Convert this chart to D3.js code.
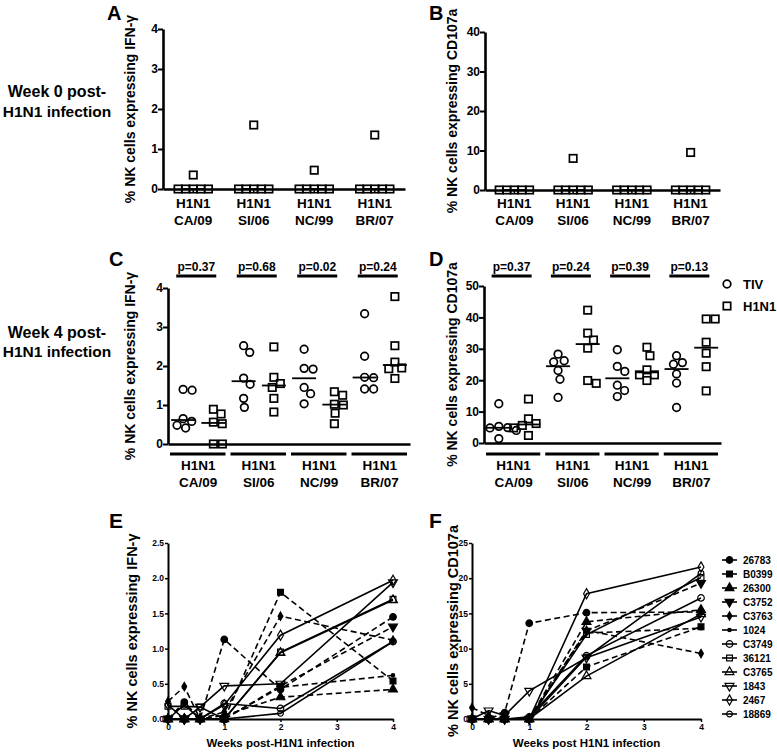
<!DOCTYPE html>
<html><head><meta charset="utf-8">
<script src="https://cdn.jsdelivr.net/npm/d3@7"></script>
<style>body{margin:0;background:#fff}</style>
</head><body><svg id="c" width="777" height="752"></svg>
<script>
// ---------------- DATA ----------------
const strains = ["CA/09", "SI/06", "NC/99", "BR/07"];
const virusLabel = "H1N1";
const groupNames = ["TIV", "H1N1"];

// Week 0 (H1N1 group only)
const aIFN = [[0,0,0,0,0,0.35],[0,0,0,0,0,1.6],[0,0,0,0,0,0.47],[0,0,0,0,0,1.35]];
const bCD107 = [[0,0,0,0,0],[0,0,0,0,0,8.0],[0,0,0,0,0],[0,0,0,0,0,9.5]];

// Week 4
const cTIV  = [[1.40,1.38,0.65,0.58,0.48,0.41],[2.52,2.35,1.69,1.53,1.17,0.94],[2.43,1.94,1.92,1.45,1.29,1.03],[3.34,2.25,1.71,1.70,1.41,1.41]];
const cH1N1 = [[0.89,0.77,0.56,0.52,0,0],[2.49,1.71,1.55,1.45,1.17,0.82],[1.34,1.25,1.02,1.00,0.79,0.52],[3.78,2.52,2.10,1.95,1.93,1.68]];
const cP = ["p=0.37","p=0.68","p=0.02","p=0.24"];
const dTIV  = [[12.5,5.3,4.9,4.8,4.0,1.4],[28.3,26.2,25.8,23.1,20.3,14.5],[29.7,24.4,22.8,18.4,16.7,14.8],[27.8,25.6,25.1,22.0,19.1,11.3]];
const dH1N1 = [[14.0,7.7,6.2,5.6,4.8,2.4],[42.3,35.0,32.8,30.2,19.9,19.0],[30.5,27.8,23.3,21.7,21.7,19.9],[39.5,39.5,32.1,28.6,24.3,16.6]];
const dP = ["p=0.37","p=0.24","p=0.39","p=0.13"];

// Time course
const weeks = [0, 0.29, 0.57, 1, 2, 4];
const patients = ["26783","B0399","26300","C3752","C3763","1024","C3749","36121","C3765","1843","2467","18869"];
const eIFN = [
  [0, 0.24, 0, 1.13, 0.42, 1.45],
  [0, 0, 0, 0, 1.80, 0.54],
  [0, 0, 0, 0.05, 0.31, 0.42],
  [0, 0, 0, 0, 0.47, 1.31],
  [0.25, 0.46, 0, 0.10, 1.46, 1.12],
  [0, 0, 0, 0, 0.45, 0.62],
  [0, 0.20, 0, 0.22, 0.15, 1.10],
  [0.18, 0.18, 0.17, 0, 0.95, 1.70],
  [0, 0, 0, 0, 0.94, 1.69],
  [0, 0, 0.17, 0.47, 0.50, 1.94],
  [0.20, 0, 0, 0.20, 1.19, 1.97],
  [0, 0, 0, 0, 0.08, 1.10]
];
const fCD107 = [
  [0, 0, 0.9, 13.6, 15.1, 15.2],
  [0, 0, 0, 0, 7.4, 13.1],
  [0, 0, 0, 0, 13.8, 15.5],
  [0, 0, 0, 0, 12.5, 19.3],
  [1.6, 0.5, 0, 0, 12.6, 9.3],
  [0, 0, 0, 0, 12.2, 12.9],
  [0, 0, 0, 0.3, 9.0, 17.2],
  [0, 0, 0, 0, 12.0, 20.1],
  [0, 0, 0, 0, 6.1, 14.9],
  [0, 1.2, 0.5, 4.0, 8.7, 14.5],
  [0, 0, 0, 0, 17.8, 21.6],
  [0, 0, 0, 0, 8.8, 20.7]
];

// ---------------- STYLE ----------------
const FONT = "'Liberation Sans', Arial, sans-serif";
const patientStyle = [
  {sym:"circle", fill:true, dash:true},
  {sym:"square", fill:true, dash:true},
  {sym:"triangle", fill:true, dash:true},
  {sym:"triangleDown", fill:true, dash:true},
  {sym:"diamondSmall", fill:true, dash:true},
  {sym:"dot", fill:true, dash:true},
  {sym:"circle", fill:false, dash:false},
  {sym:"square", fill:false, dash:false},
  {sym:"triangle", fill:false, dash:false},
  {sym:"triangleDown", fill:false, dash:false},
  {sym:"diamond", fill:false, dash:false},
  {sym:"circleSmall", fill:false, dash:false}
];

const svg = d3.select("#c");

function txt(x, y, s, size, opts = {}) {
  const t = svg.append("text").attr("x", x).attr("y", y).text(s)
    .attr("font-family", opts.family || FONT).attr("font-size", size)
    .attr("font-weight", "bold").attr("text-anchor", opts.anchor || "middle").attr("fill", "#000");
  if (opts.rotate) t.attr("transform", `rotate(-90,${x},${y})`);
  return t;
}

function swarm(ys, D) {
  const placed = [];
  return ys.map(py => {
    const blocked = [];
    placed.forEach(p => {
      const dy = Math.abs(p.y - py);
      if (dy < D) { const dx = Math.sqrt(D * D - dy * dy); blocked.push([p.x - dx, p.x + dx]); }
    });
    const cands = [0];
    blocked.forEach(b => cands.push(b[0], b[1]));
    cands.sort((a, b) => Math.abs(a) - Math.abs(b) || b - a);
    const x = cands.find(c => blocked.every(b => c <= b[0] + 1e-6 || c >= b[1] - 1e-6));
    placed.push({x, y: py});
    return x;
  });
}

function styleAxis(g, domainW, tickW, fontSize) {
  g.select(".domain").attr("stroke", "#000").attr("stroke-width", domainW);
  g.selectAll(".tick line").attr("stroke", "#000").attr("stroke-width", tickW);
  g.selectAll(".tick text").attr("font-family", FONT).attr("font-weight", "bold")
    .attr("font-size", fontSize).attr("fill", "#000");
}

function scatterPanel(cfg) {
  const y = d3.scaleLinear().domain([0, cfg.yMax]).range([cfg.y0, cfg.yTop]);
  const xs = d3.scaleBand().domain(strains).range([cfg.x0, cfg.x1]);
  const inner = d3.scaleBand().domain(d3.range(cfg.series.length)).range([0, xs.bandwidth()]);
  const g = svg.append("g");

  const ya = g.append("g").attr("transform", `translate(${cfg.x0},0)`)
    .call(d3.axisLeft(y).tickValues(d3.range(0, cfg.yMax + 1e-9, cfg.yStep)).tickSize(5).tickSizeOuter(0).tickFormat(d3.format("d")));
  styleAxis(ya, 2.6, 2, 12);
  ya.selectAll(".tick text").attr("x", -5);

  const xa = g.append("g").attr("transform", `translate(0,${y(0)})`)
    .call(d3.axisBottom(xs).tickSize(cfg.catTicks ? 3 : 0).tickSizeOuter(0).tickFormat(""));
  styleAxis(xa, 2.6, 1.5, 12);

  strains.forEach(s => {
    const cx = xs(s) + xs.bandwidth() / 2;
    txt(cx, cfg.labY, virusLabel, 13.5);
    txt(cx, cfg.labY + 17, s, 13.5);
    if (cfg.underBars) {
      g.append("line").attr("x1", xs(s) + 2).attr("x2", xs(s) + xs.bandwidth() - 3)
        .attr("y1", cfg.underBars).attr("y2", cfg.underBars).attr("stroke", "#000").attr("stroke-width", 3);
    }
  });

  cfg.series.forEach((ser, k) => {
    ser.values.forEach((vals, i) => {
      const cx = xs(strains[i]) + inner(k) + inner.bandwidth() / 2;
      const pys = vals.map(v => y(v));
      const offs = swarm(pys, cfg.D);
      vals.forEach((v, j) => {
        if (ser.shape === "circle") {
          g.append("circle").attr("cx", cx + offs[j]).attr("cy", y(v)).attr("r", 3.8)
            .attr("fill", "none").attr("stroke", "#000").attr("stroke-width", 1.7);
        } else {
          g.append("rect").attr("x", cx + offs[j] - 3.7).attr("y", y(v) - 3.7).attr("width", 7.4).attr("height", 7.4)
            .attr("fill", "none").attr("stroke", "#000").attr("stroke-width", 1.7);
        }
      });
      const med = d3.median(vals);
      g.append("line").attr("x1", cx - 12).attr("x2", cx + 12).attr("y1", y(med)).attr("y2", y(med))
        .attr("stroke", "#000").attr("stroke-width", 1.8);
    });
  });

  if (cfg.pvals) {
    strains.forEach((s, i) => {
      const cx = xs(s) + xs.bandwidth() / 2;
      txt(cx - 2, cfg.pY, cfg.pvals[i], 12);
      g.append("line").attr("x1", cx - 22).attr("x2", cx + 18).attr("y1", cfg.pY + 5).attr("y2", cfg.pY + 5)
        .attr("stroke", "#000").attr("stroke-width", 3);
    });
  }

  txt(cfg.titleX, (cfg.y0 + cfg.yTop) / 2, cfg.title, 14, {rotate: true});
  txt(cfg.letterX, cfg.letterY, cfg.letter, 20, {anchor: "start"});
}

function symbolPath(sym) {
  const m = {
    circle: [d3.symbolCircle, 34], circleSmall: [d3.symbolCircle, 26],
    square: [d3.symbolSquare, 34], triangle: [d3.symbolTriangle, 34],
    triangleDown: [d3.symbolTriangle, 34], diamond: [d3.symbolDiamond, 30],
    diamondSmall: [d3.symbolDiamond, 20], dot: [d3.symbolCircle, 9]
  }[sym];
  return d3.symbol().type(m[0]).size(m[1])();
}

function linePanel(cfg) {
  const x = d3.scaleLinear().domain([0, 4]).range([cfg.x0, cfg.x4]);
  const y = d3.scaleLinear().domain([0, cfg.yMax]).range([cfg.y0, cfg.yTop]);
  const g = svg.append("g");
  const ya = g.append("g").attr("transform", `translate(${cfg.x0},0)`)
    .call(d3.axisLeft(y).tickValues(d3.range(0, cfg.yMax + 1e-9, cfg.yStep)).tickSize(3).tickSizeOuter(0).tickFormat(d3.format(cfg.yFmt)));
  styleAxis(ya, 2, 1.5, 8.5);
  ya.selectAll(".tick text").attr("x", -4);
  const xa = g.append("g").attr("transform", `translate(0,${cfg.y0})`)
    .call(d3.axisBottom(x).tickValues([0, 1, 2, 3, 4]).tickSize(3).tickSizeOuter(0).tickFormat(d3.format("d")));
  styleAxis(xa, 2, 1.5, 8.5);
  xa.selectAll(".tick text").attr("y", 5);

  const line = d3.line().x((d, i) => x(weeks[i])).y(d => y(d));
  cfg.data.forEach((vals, p) => {
    const st = patientStyle[p];
    g.append("path").datum(vals).attr("d", line).attr("fill", "none").attr("stroke", "#000")
      .attr("stroke-width", 1.6).attr("stroke-dasharray", st.dash ? "6,3.5" : null);
  });
  cfg.data.forEach((vals, p) => {
    const st = patientStyle[p];
    vals.forEach((v, i) => {
      g.append("path").attr("d", symbolPath(st.sym))
        .attr("transform", `translate(${x(weeks[i])},${y(v)})` + (st.sym === "triangleDown" ? " rotate(180)" : ""))
        .attr("fill", st.fill ? "#000" : "none").attr("stroke", "#000").attr("stroke-width", 1.2);
    });
  });
  txt(cfg.titleX, (cfg.y0 + cfg.yTop) / 2, cfg.title, 14.5, {rotate: true});
  txt((cfg.x0 + cfg.x4) / 2, 747, cfg.xTitle, 11.5);
  txt(cfg.letterX, 528, cfg.letter, 21, {anchor: "start"});

  if (cfg.legend) {
    patients.forEach((name, p) => {
      const ly = 560 + p * 14;
      const st = patientStyle[p];
      svg.append("line").attr("x1", 722).attr("x2", 737).attr("y1", ly).attr("y2", ly)
        .attr("stroke", "#000").attr("stroke-width", 1.6);
      svg.append("path").attr("d", symbolPath(st.sym))
        .attr("transform", `translate(729.5,${ly})` + (st.sym === "triangleDown" ? " rotate(180)" : ""))
        .attr("fill", st.fill ? "#000" : "none").attr("stroke", "#000").attr("stroke-width", 1.2);
      txt(743, ly + 3.5, name, 10, {anchor: "start"});
    });
  }
}

// Row labels
txt(57, 97, "Week 0 post-", 16);
txt(57, 117, "H1N1 infection", 15.5);
txt(57, 338, "Week 4 post-", 16);
txt(57, 357, "H1N1 infection", 15.5);

scatterPanel({x0: 163, x1: 405, y0: 189, yTop: 29, yMax: 4, yStep: 1, series: [{values: aIFN, shape: "square"}],
  D: 7.6, catTicks: true, labY: 208, title: "% NK cells expressing IFN-γ", titleX: 135, letter: "A", letterX: 107, letterY: 20});
scatterPanel({x0: 485, x1: 720, y0: 190, yTop: 32, yMax: 40, yStep: 10, series: [{values: bCD107, shape: "square"}],
  D: 7.6, catTicks: true, labY: 208, title: "% NK cells expressing CD107a", titleX: 457, letter: "B", letterX: 429, letterY: 20});
scatterPanel({x0: 168, x1: 410, y0: 444, yTop: 288, yMax: 4, yStep: 1,
  series: [{values: cTIV, shape: "circle"}, {values: cH1N1, shape: "square"}],
  D: 9, catTicks: false, labY: 470, underBars: 454, pvals: cP, pY: 271,
  title: "% NK cells expressing IFN-γ", titleX: 135, letter: "C", letterX: 109, letterY: 266});
scatterPanel({x0: 484, x1: 721, y0: 443, yTop: 286, yMax: 50, yStep: 10,
  series: [{values: dTIV, shape: "circle"}, {values: dH1N1, shape: "square"}],
  D: 9, catTicks: false, labY: 470, underBars: 454, pvals: dP, pY: 271,
  title: "% NK cells expressing CD107a", titleX: 457, letter: "D", letterX: 429, letterY: 266});

// D legend
svg.append("circle").attr("cx", 727).attr("cy", 284).attr("r", 3.8).attr("fill", "none").attr("stroke", "#000").attr("stroke-width", 1.7);
txt(743, 289, groupNames[0], 13, {anchor: "start"});
svg.append("rect").attr("x", 723.3).attr("y", 302.3).attr("width", 7.4).attr("height", 7.4).attr("fill", "none").attr("stroke", "#000").attr("stroke-width", 1.7);
txt(743, 311, groupNames[1], 13, {anchor: "start"});

linePanel({x0: 168, x4: 393, y0: 719, yTop: 543, yMax: 2.5, yStep: 0.5, yFmt: ".1f", data: eIFN,
  title: "% NK cells expressing IFN-γ", titleX: 137, xTitle: "Weeks post-H1N1 infection", letter: "E", letterX: 109});
linePanel({x0: 472, x4: 701, y0: 719, yTop: 543, yMax: 25, yStep: 5, yFmt: "d", data: fCD107,
  title: "% NK cells expressing CD107a", titleX: 458, xTitle: "Weeks post H1N1 infection", letter: "F", letterX: 429, legend: true});
</script>
</body></html>
